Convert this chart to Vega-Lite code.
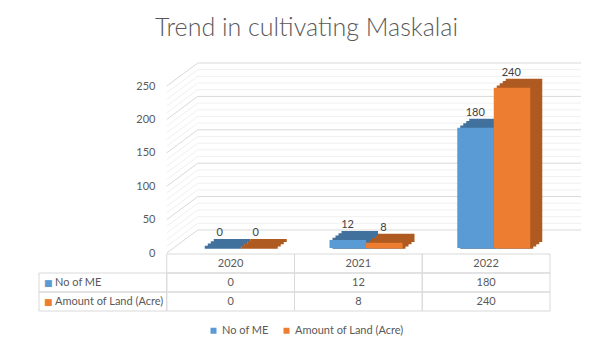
{
  "$schema": "https://vega.github.io/schema/vega-lite/v6.json",
  "width": 381,
  "height": 167,
  "autosize": {"type": "none"},
  "padding": {"left": 169, "top": 86, "right": 62, "bottom": 98},
  "background": "white",
  "title": {"text": "Trend in cultivating Maskalai", "anchor": "middle", "dx": -53, "offset": 22, "font": "Lato", "fontSize": 25, "fontWeight": 300, "color": "#595959"},
  "config": {"view": {"stroke": null}, "text": {"font": "Lato"},
    "axisY": {"title": null, "domain": false, "ticks": false, "grid": false, "labelOverlap": false, "labelPadding": 14, "labelFont": "Lato", "labelFontSize": 11, "labelColor": "#595959"}},
  "datasets": {
    "vals": [
      {"year": "2020", "series": "No of ME", "value": 0},
      {"year": "2020", "series": "Amount of Land (Acre)", "value": 0},
      {"year": "2021", "series": "No of ME", "value": 12},
      {"year": "2021", "series": "Amount of Land (Acre)", "value": 8},
      {"year": "2022", "series": "No of ME", "value": 180},
      {"year": "2022", "series": "Amount of Land (Acre)", "value": 240}
    ],
    "ticks": [
      {"tick": 0, "kind": "major"}, {"tick": 10, "kind": "minor"}, {"tick": 20, "kind": "minor"}, {"tick": 30, "kind": "minor"}, {"tick": 40, "kind": "minor"},
      {"tick": 50, "kind": "major"}, {"tick": 60, "kind": "minor"}, {"tick": 70, "kind": "minor"}, {"tick": 80, "kind": "minor"}, {"tick": 90, "kind": "minor"},
      {"tick": 100, "kind": "major"}, {"tick": 110, "kind": "minor"}, {"tick": 120, "kind": "minor"}, {"tick": 130, "kind": "minor"}, {"tick": 140, "kind": "minor"},
      {"tick": 150, "kind": "major"}, {"tick": 160, "kind": "minor"}, {"tick": 170, "kind": "minor"}, {"tick": 180, "kind": "minor"}, {"tick": 190, "kind": "minor"},
      {"tick": 200, "kind": "major"}, {"tick": 210, "kind": "minor"}, {"tick": 220, "kind": "minor"}, {"tick": 230, "kind": "minor"}, {"tick": 240, "kind": "minor"},
      {"tick": 250, "kind": "major"}
    ],
    "years": [{"year": "2020"}, {"year": "2021"}, {"year": "2022"}],
    "rows": [{"series": "No of ME"}, {"series": "Amount of Land (Acre)"}]
  },
  "resolve": {"scale": {"y": "independent"}},
  "layer": [
    {
      "resolve": {"scale": {"xOffset": "independent"}},
      "layer": [
        {
          "data": {"name": "ticks"},
          "mark": {"type": "rule", "xOffset": 31, "x2Offset": 31, "yOffset": -23, "strokeWidth": 1},
          "encoding": {
            "x": {"datum": "2020", "type": "nominal", "bandPosition": 0, "axis": null, "scale": {"domain": ["label", "2020", "2021", "2022"], "range": [-130, 381], "paddingInner": 0, "paddingOuter": 0}},
            "x2": {"datum": "2022", "bandPosition": 1},
            "y": {"field": "tick", "type": "quantitative", "scale": {"domain": [0, 250], "nice": false}, "axis": {"values": [0, 50, 100, 150, 200, 250]}},
            "stroke": {"condition": {"test": "datum.kind == 'major'", "value": "#d9d9d9"}, "value": "#f0f0f0"}
          }
        },
        {
          "data": {"name": "ticks"},
          "mark": {"type": "rule", "x2Offset": 31, "y2Offset": -23, "strokeWidth": 1},
          "encoding": {
            "x": {"datum": "2020", "type": "nominal", "bandPosition": 0},
            "x2": {"datum": "2020", "bandPosition": 0},
            "y": {"field": "tick", "type": "quantitative", "axis": {"values": [0, 50, 100, 150, 200, 250]}},
            "y2": {"field": "tick"},
            "stroke": {"condition": {"test": "datum.kind == 'major'", "value": "#d9d9d9"}, "value": "#f0f0f0"}
          }
        },
        {
          "data": {"name": "vals"},
          "mark": {"type": "rect", "yOffset": -14, "y2Offset": -11},
          "encoding": {
            "x": {"field": "year", "type": "nominal"},
            "xOffset": {"field": "series", "type": "nominal", "scale": {"domain": ["No of ME", "Amount of Land (Acre)"], "range": [47, 120], "paddingInner": 0, "paddingOuter": 0}},
            "y": {"field": "value", "type": "quantitative", "stack": null, "axis": {"values": [0, 50, 100, 150, 200, 250]}},
            "y2": {"datum": 0},
            "color": {"condition": {"test": "datum.series == 'No of ME'", "value": "#41719c"}, "value": "#ae5a21"}
          }
        },
        {
          "data": {"name": "vals"},
          "mark": {"type": "rect", "yOffset": -11.75, "y2Offset": -8.75},
          "encoding": {
            "x": {"field": "year", "type": "nominal"},
            "xOffset": {"field": "series", "type": "nominal", "scale": {"domain": ["No of ME", "Amount of Land (Acre)"], "range": [44, 117], "paddingInner": 0, "paddingOuter": 0}},
            "y": {"field": "value", "type": "quantitative", "stack": null, "axis": {"values": [0, 50, 100, 150, 200, 250]}},
            "y2": {"datum": 0},
            "color": {"condition": {"test": "datum.series == 'No of ME'", "value": "#41719c"}, "value": "#ae5a21"}
          }
        },
        {
          "data": {"name": "vals"},
          "mark": {"type": "rect", "yOffset": -9.5, "y2Offset": -6.5},
          "encoding": {
            "x": {"field": "year", "type": "nominal"},
            "xOffset": {"field": "series", "type": "nominal", "scale": {"domain": ["No of ME", "Amount of Land (Acre)"], "range": [41, 114], "paddingInner": 0, "paddingOuter": 0}},
            "y": {"field": "value", "type": "quantitative", "stack": null, "axis": {"values": [0, 50, 100, 150, 200, 250]}},
            "y2": {"datum": 0},
            "color": {"condition": {"test": "datum.series == 'No of ME'", "value": "#41719c"}, "value": "#ae5a21"}
          }
        },
        {
          "data": {"name": "vals"},
          "mark": {"type": "rect", "yOffset": -7.25, "y2Offset": -4.25},
          "encoding": {
            "x": {"field": "year", "type": "nominal"},
            "xOffset": {"field": "series", "type": "nominal", "scale": {"domain": ["No of ME", "Amount of Land (Acre)"], "range": [38, 111], "paddingInner": 0, "paddingOuter": 0}},
            "y": {"field": "value", "type": "quantitative", "stack": null, "axis": {"values": [0, 50, 100, 150, 200, 250]}},
            "y2": {"datum": 0},
            "color": {"condition": {"test": "datum.series == 'No of ME'", "value": "#41719c"}, "value": "#ae5a21"}
          }
        },
        {
          "data": {"name": "vals"},
          "mark": {"type": "rect", "yOffset": -5, "y2Offset": -5},
          "encoding": {
            "x": {"field": "year", "type": "nominal"},
            "xOffset": {"field": "series", "type": "nominal", "scale": {"domain": ["No of ME", "Amount of Land (Acre)"], "range": [35, 108], "paddingInner": 0, "paddingOuter": 0}},
            "y": {"field": "value", "type": "quantitative", "stack": null, "axis": {"values": [0, 50, 100, 150, 200, 250]}},
            "y2": {"datum": 0},
            "color": {"field": "series", "type": "nominal", "scale": {"domain": ["No of ME", "Amount of Land (Acre)"], "range": ["#5b9bd5", "#ed7d31"]},
              "legend": {"orient": "none", "legendX": 39, "legendY": 239, "direction": "horizontal", "title": null, "symbolType": "square", "symbolSize": 36, "labelOffset": 3, "labelFont": "Lato", "labelFontSize": 11, "labelColor": "#595959", "columnPadding": 12}}
          }
        },
        {
          "data": {"name": "vals"},
          "mark": {"type": "text", "dy": -20, "fontSize": 11, "color": "#404040"},
          "encoding": {
            "x": {"field": "year", "type": "nominal"},
            "xOffset": {"field": "series", "type": "nominal", "scale": {"type": "point", "domain": ["No of ME", "Amount of Land (Acre)"], "range": [53, 89], "padding": 0}},
            "y": {"field": "value", "type": "quantitative", "axis": {"values": [0, 50, 100, 150, 200, 250]}},
            "text": {"field": "value", "type": "quantitative"}
          }
        }
      ]
    },
    {
      "layer": [
        {
          "data": {"name": "vals"},
          "mark": {"type": "rect", "fill": "transparent", "stroke": "#d9d9d9", "strokeWidth": 1},
          "encoding": {
            "x": {"field": "year", "type": "nominal"},
            "y": {"field": "series", "type": "nominal", "axis": null, "scale": {"domain": ["Year", "No of ME", "Amount of Land (Acre)"], "range": [168, 225], "paddingInner": 0, "paddingOuter": 0}}
          }
        },
        {
          "data": {"name": "years"},
          "mark": {"type": "rect", "fill": "transparent", "stroke": "#d9d9d9", "strokeWidth": 1},
          "encoding": {
            "x": {"field": "year", "type": "nominal"},
            "y": {"datum": "Year", "type": "nominal", "axis": null}
          }
        },
        {
          "data": {"name": "rows"},
          "mark": {"type": "rect", "fill": "transparent", "stroke": "#d9d9d9", "strokeWidth": 1},
          "encoding": {
            "x": {"datum": "label", "type": "nominal"},
            "y": {"field": "series", "type": "nominal", "axis": null}
          }
        },
        {
          "data": {"name": "vals"},
          "mark": {"type": "text", "fontSize": 11, "color": "#595959"},
          "encoding": {
            "x": {"field": "year", "type": "nominal"},
            "y": {"field": "series", "type": "nominal", "axis": null},
            "text": {"field": "value", "type": "quantitative"}
          }
        },
        {
          "data": {"name": "years"},
          "mark": {"type": "text", "fontSize": 11, "color": "#595959"},
          "encoding": {
            "x": {"field": "year", "type": "nominal"},
            "y": {"datum": "Year", "type": "nominal", "axis": null},
            "text": {"field": "year", "type": "nominal"}
          }
        },
        {
          "data": {"name": "rows"},
          "mark": {"type": "text", "fontSize": 11, "color": "#595959", "align": "left", "dx": 16},
          "encoding": {
            "x": {"datum": "label", "type": "nominal", "bandPosition": 0},
            "y": {"field": "series", "type": "nominal", "axis": null},
            "text": {"field": "series", "type": "nominal"}
          }
        },
        {
          "data": {"name": "rows"},
          "mark": {"type": "text", "fontSize": 9, "font": "DejaVu Sans", "align": "left", "dx": 5},
          "encoding": {
            "x": {"datum": "label", "type": "nominal", "bandPosition": 0},
            "y": {"field": "series", "type": "nominal", "axis": null},
            "text": {"value": "■"},
            "color": {"field": "series", "type": "nominal"}
          }
        }
      ]
    }
  ]
}
